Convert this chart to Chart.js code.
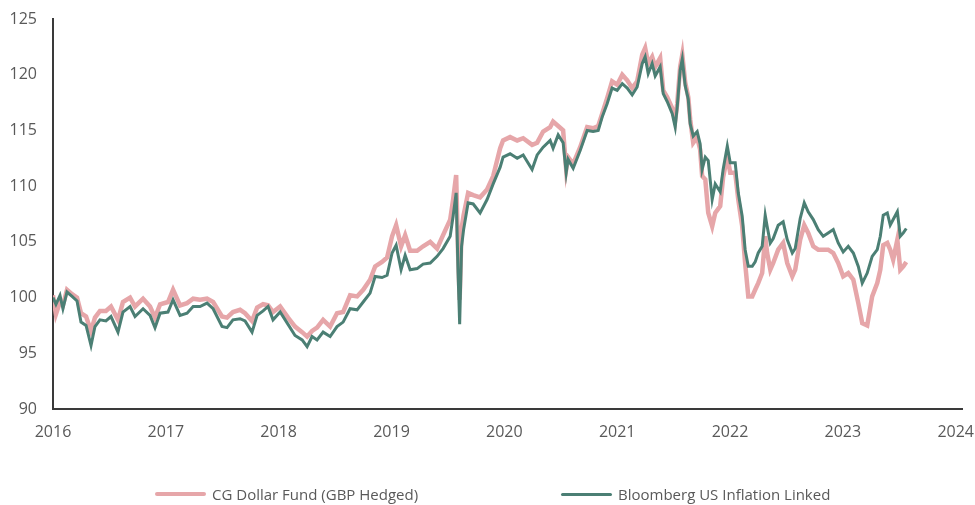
<!DOCTYPE html>
<html>
<head>
<meta charset="utf-8">
<script src="https://cdn.jsdelivr.net/npm/chart.js@4.4.0/dist/chart.umd.min.js"></script>
<style>
  html, body { margin: 0; padding: 0; background: #fff; }
  #wrap { position: relative; width: 975px; height: 505px; }
  .legend { position: absolute; top: 484px; font: 15px "Open Sans", sans-serif; color: #595959; display: flex; align-items: center; }
  .legend span.sw { display: inline-block; width: 51px; height: 4px; margin-right: 6px; border-radius: 2px; }
</style>
</head>
<body>
<div id="wrap">
  <canvas id="chart" width="975" height="505"></canvas>
  <div class="legend" style="left:155px"><span class="sw" style="background:#e6a6a9"></span>CG Dollar Fund (GBP Hedged)</div>
  <div class="legend" style="left:561px"><span class="sw" style="background:#4b7f74;height:3px"></span>Bloomberg US Inflation Linked</div>
</div>
<script>
// dates as decimal years
const dates = [
  2016.000, 2016.026, 2016.062, 2016.088, 2016.124, 2016.169, 2016.213, 2016.248, 2016.293, 2016.337,
  2016.372, 2016.416, 2016.469, 2016.514, 2016.576, 2016.620, 2016.683, 2016.727, 2016.798, 2016.860,
  2016.904, 2016.949, 2017.019, 2017.064, 2017.126, 2017.188, 2017.242, 2017.303, 2017.365, 2017.419,
  2017.498, 2017.542, 2017.595, 2017.658, 2017.702, 2017.764, 2017.809, 2017.862, 2017.906, 2017.950,
  2018.013, 2018.083, 2018.145, 2018.208, 2018.252, 2018.296, 2018.340, 2018.394, 2018.456, 2018.517,
  2018.571, 2018.633, 2018.695, 2018.749, 2018.810, 2018.855, 2018.916, 2018.961, 2019.005, 2019.041,
  2019.085, 2019.121, 2019.165, 2019.227, 2019.280, 2019.343, 2019.404, 2019.457, 2019.520, 2019.546,
  2019.573, 2019.590, 2019.604, 2019.621, 2019.639, 2019.679, 2019.724, 2019.785, 2019.847, 2019.901,
  2019.963, 2019.989, 2020.051, 2020.114, 2020.167, 2020.246, 2020.291, 2020.344, 2020.406, 2020.432,
  2020.477, 2020.521, 2020.548, 2020.565, 2020.610, 2020.672, 2020.734, 2020.787, 2020.832, 2020.867,
  2020.911, 2020.955, 2021.000, 2021.045, 2021.089, 2021.133, 2021.177, 2021.222, 2021.248, 2021.275,
  2021.310, 2021.337, 2021.381, 2021.408, 2021.443, 2021.488, 2021.514, 2021.532, 2021.558, 2021.577,
  2021.603, 2021.630, 2021.647, 2021.674, 2021.709, 2021.735, 2021.753, 2021.781, 2021.807, 2021.842,
  2021.869, 2021.913, 2021.939, 2021.976, 2022.002, 2022.046, 2022.073, 2022.108, 2022.134, 2022.162,
  2022.197, 2022.223, 2022.250, 2022.285, 2022.312, 2022.329, 2022.357, 2022.383, 2022.427, 2022.471,
  2022.507, 2022.552, 2022.578, 2022.622, 2022.658, 2022.693, 2022.738, 2022.782, 2022.826, 2022.870,
  2022.915, 2022.959, 2023.003, 2023.048, 2023.093, 2023.137, 2023.172, 2023.216, 2023.260, 2023.305,
  2023.332, 2023.358, 2023.394, 2023.420, 2023.446, 2023.483, 2023.509, 2023.536, 2023.562
];

const fund = [
  100.2, 98.5, 99.6, 99.3, 100.7, 100.3, 100.0, 98.6, 98.3, 97.0,
  98.2, 98.8, 98.8, 99.2, 98.0, 99.6, 100.0, 99.2, 99.9, 99.2,
  98.2, 99.4, 99.6, 100.7, 99.3, 99.5, 99.9, 99.8, 99.9, 99.6,
  98.3, 98.2, 98.7, 98.9, 98.6, 97.9, 99.1, 99.4, 99.3, 98.7,
  99.2, 98.2, 97.4, 96.9, 96.5, 97.0, 97.3, 98.0, 97.4, 98.6,
  98.7, 100.2, 100.1, 100.7, 101.6, 102.8, 103.2, 103.6, 105.5, 106.5,
  104.6, 105.6, 104.2, 104.2, 104.6, 105.0, 104.4, 105.6, 107.0, 108.8,
  111.0, 104.0, 99.8, 106.2, 107.4, 109.4, 109.2, 109.0, 109.7, 110.9,
  113.4, 114.1, 114.4, 114.1, 114.3, 113.7, 113.9, 114.9, 115.3, 115.8,
  115.4, 115.0, 111.5, 112.6, 112.0, 113.5, 115.3, 115.2, 115.4, 116.5,
  117.9, 119.4, 119.1, 120.0, 119.5, 118.8, 119.4, 121.8, 122.4, 121.0,
  121.6, 120.7, 121.5, 118.6, 118.0, 117.0, 115.9, 117.4, 120.7, 121.8,
  119.3, 118.0, 116.0, 113.9, 114.4, 113.3, 110.9, 110.6, 107.6, 106.4,
  107.6, 108.2, 110.8, 112.7, 111.2, 111.2, 108.8, 106.4, 103.1, 100.1,
  100.1, 100.7, 101.3, 102.2, 105.5, 104.0, 102.5, 103.1, 104.3, 104.9,
  103.1, 101.9, 102.5, 105.2, 106.5, 105.8, 104.6, 104.3, 104.3, 104.3,
  104.0, 103.1, 101.9, 102.2, 101.6, 99.5, 97.7, 97.5, 100.1, 101.3,
  102.5, 104.7, 104.9, 104.3, 103.4, 105.2, 102.5, 102.8, 103.2
];

const index = [
  100.0, 99.4, 100.2, 99.0, 100.5, 100.1, 99.7, 97.8, 97.5, 95.7,
  97.4, 98.0, 97.9, 98.3, 96.9, 98.7, 99.2, 98.3, 99.0, 98.4,
  97.3, 98.6, 98.7, 99.8, 98.4, 98.6, 99.2, 99.2, 99.5, 99.0,
  97.4, 97.3, 98.0, 98.1, 97.9, 96.9, 98.4, 98.8, 99.2, 98.0,
  98.7, 97.6, 96.6, 96.2, 95.6, 96.5, 96.2, 96.9, 96.5, 97.4,
  97.8, 99.0, 98.9, 99.6, 100.4, 101.9, 101.8, 102.0, 104.0, 104.7,
  102.5, 103.8, 102.5, 102.6, 103.0, 103.1, 103.7, 104.4, 105.5, 107.3,
  109.4, 102.2, 97.6, 104.6, 106.1, 108.5, 108.4, 107.6, 108.8, 110.2,
  111.7, 112.6, 112.9, 112.5, 112.8, 111.5, 112.8, 113.5, 114.1, 113.4,
  114.6, 113.9, 111.2, 112.4, 111.6, 113.2, 115.0, 114.9, 115.0, 116.2,
  117.4, 118.8, 118.6, 119.2, 118.8, 118.2, 118.9, 121.0, 121.6, 120.1,
  121.0, 119.9, 120.7, 118.3, 117.6, 116.5, 115.3, 117.1, 120.4, 121.4,
  119.0, 117.8, 115.6, 114.5, 114.9, 113.8, 111.5, 112.6, 112.3, 108.8,
  110.2, 109.5, 111.5, 113.6, 112.1, 112.1, 109.4, 107.3, 104.3, 102.8,
  102.8, 103.2, 104.0, 104.6, 107.4, 106.4, 104.9, 105.3, 106.5, 106.8,
  105.2, 104.0, 104.4, 107.1, 108.5, 107.7, 107.0, 106.1, 105.5, 105.8,
  106.1, 104.9, 104.1, 104.6, 104.0, 102.8, 101.3, 102.2, 103.7, 104.3,
  105.5, 107.4, 107.6, 106.5, 107.0, 107.7, 105.5, 105.8, 106.2
];

const yTicks = [90, 95, 100, 105, 110, 115, 120, 125];
const xTicks = [2016, 2017, 2018, 2019, 2020, 2021, 2022, 2023, 2024];

const tickFont = { family: "'Open Sans', sans-serif", size: 16 };
const tickColor = "#595959";

new Chart(document.getElementById("chart"), {
  type: "line",
  data: {
    datasets: [
      {
        label: "CG Dollar Fund (GBP Hedged)",
        data: dates.map((d, i) => ({ x: d, y: fund[i] })),
        borderColor: "#e6a6a9",
        borderWidth: 4.5,
        pointRadius: 0,
        tension: 0,
        order: 2,
      },
      {
        label: "Bloomberg US Inflation Linked",
        data: dates.map((d, i) => ({ x: d, y: index[i] })),
        borderColor: "#4b7f74",
        borderWidth: 3,
        pointRadius: 0,
        tension: 0,
        order: 1,
      },
    ],
  },
  options: {
    responsive: false,
    animation: false,
    layout: { padding: { left: 0, right: 13, top: 19, bottom: 0 } },
    plugins: { legend: { display: false }, tooltip: { enabled: false } },
    scales: {
      x: {
        type: "linear",
        min: 2016,
        max: 2024.056,
        afterBuildTicks: (s) => { s.ticks = xTicks.map((v) => ({ value: v })); },
        afterFit: (s) => { s.height = 96; s.paddingLeft = 0; s.paddingRight = 0; },
        grid: { display: false, drawTicks: false },
        border: { display: true, color: "#3a3a3a", width: 2 },
        ticks: { color: tickColor, font: tickFont, padding: 14, maxRotation: 0, callback: (v) => String(v) },
      },
      y: {
        min: yTicks[0],
        max: yTicks[yTicks.length - 1],
        afterBuildTicks: (s) => { s.ticks = yTicks.map((v) => ({ value: v })); },
        afterFit: (s) => { s.width = 53; s.paddingTop = 0; s.paddingBottom = 0; },
        grid: { display: false, drawTicks: false },
        border: { display: true, color: "#3a3a3a", width: 2 },
        ticks: { color: tickColor, font: tickFont, padding: 16 },
      },
    },
  },
});
</script>
</body>
</html>
